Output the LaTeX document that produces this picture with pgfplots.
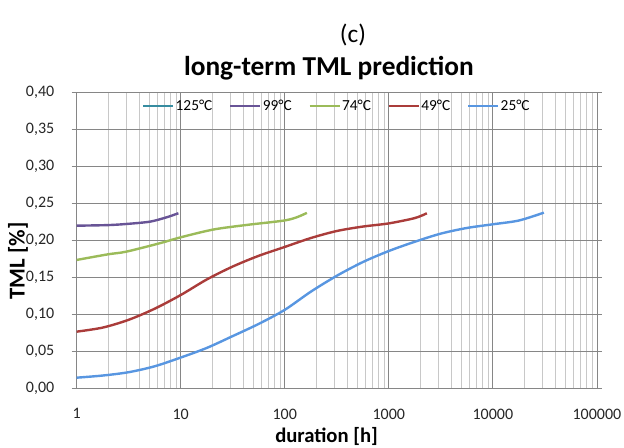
\documentclass[border=0pt]{standalone}
\usepackage{fontspec}
\setmainfont{Carlito}
\usepackage{pgfplots}
\pgfplotsset{compat=1.18}
\definecolor{cA}{RGB}{54,140,160}
\definecolor{cB}{RGB}{104,84,150}
\definecolor{cC}{RGB}{155,187,89}
\definecolor{cD}{RGB}{170,60,58}
\definecolor{cE}{RGB}{88,150,225}
\definecolor{gmaj}{RGB}{134,134,134}
\definecolor{gmin}{RGB}{200,200,200}
\begin{document}
\begin{tikzpicture}
\begin{axis}[
  scale only axis,
  width=390.2pt, height=222pt,
  xmode=log, log basis x=10,
  xmin=1, xmax=100000, ymin=0, ymax=0.4,
  xtick={1,10,100,1000,10000,100000},
  xticklabels={1,10,100,1000,10000,100000},
  minor xtick={2,3,4,5,6,7,8,9,20,30,40,50,60,70,80,90,200,300,400,500,600,700,800,900,2000,3000,4000,5000,6000,7000,8000,9000,20000,30000,40000,50000,60000,70000,80000,90000},
  ytick={0,0.05,0.1,0.15,0.2,0.25,0.3,0.35,0.4},
  yticklabel style={/pgf/number format/use comma, /pgf/number format/fixed, /pgf/number format/fixed zerofill, /pgf/number format/precision=2, xshift=-9.5pt},
  /pgf/number format/assume math mode=true,
  tick label style={font=\fontsize{12}{14}\selectfont, text=black!85},
  xticklabel style={yshift=-8pt},
  grid=major, xminorgrids=true,
  major grid style={gmaj, line width=0.6pt},
  minor grid style={gmin, line width=0.6pt},
  axis line style={gmaj, line width=0.6pt},
  tick align=outside, major tick length=3.75pt,
  tick style={gmaj, line width=0.6pt},
  xtick style={draw=none},
  legend columns=5,
  legend style={at={(axis description cs:0.125,0.954)}, anchor=west, draw=none, fill=none,
    font=\fontsize{11.5}{13}\selectfont, inner sep=0pt, nodes={inner sep=1pt},
    /tikz/every odd column/.append style={column sep=0pt},
    /tikz/every even column/.append style={column sep=11.5pt}},
  legend image code/.code={\draw[#1, line width=1.8pt] (0pt,0pt) -- (22.5pt,0pt);},
  legend cell align=left,
]
\addlegendimage{cA}
\addlegendentry{125°C}
\addplot[cB, line width=1.8pt, smooth] coordinates {
(1,0.2197) (2,0.2205) (3,0.222) (5,0.225) (6.8,0.2297) (8,0.2328) (9.5,0.2365)};
\addlegendentry{99°C}
\addplot[cC, line width=1.8pt, smooth] coordinates {
(1,0.1734) (2,0.181) (3,0.1846) (6.3,0.196) (10,0.204) (20.6,0.2145) (43,0.2207) (97,0.2265) (130,0.231) (163,0.237)};
\addlegendentry{74°C}
\addplot[cD, line width=1.8pt, smooth] coordinates {
(1,0.0765) (1.78,0.082) (3.16,0.0925) (5.62,0.1075) (10,0.126) (17.8,0.147) (31.6,0.1645) (56.2,0.179) (100,0.191) (178,0.203) (316,0.2125) (562,0.2185) (1000,0.2228) (1778,0.2300) (2320,0.2365)};
\addlegendentry{49°C}
\addplot[cE, line width=1.8pt, smooth] coordinates {
(1,0.0143) (1.78,0.0172) (3.16,0.0217) (5.62,0.0297) (10,0.0415) (17.8,0.0545) (31.6,0.0705) (56.2,0.087) (100,0.106) (178,0.1305) (316,0.152) (562,0.1705) (1000,0.1855) (1778,0.198) (3162,0.2090) (5623,0.2166) (10000,0.2216) (17783,0.2267) (30900,0.2373)};
\addlegendentry{25°C}
\end{axis}
\node[font=\fontsize{19}{22}\selectfont] at (207.2pt,265pt) {(c)};
\node[font=\bfseries\fontsize{20.5}{23}\selectfont] at (189.2pt,240.2pt) {long-term TML prediction};
\node[font=\bfseries\fontsize{15.5}{18}\selectfont] at (187.4pt,-36.5pt) {duration [h]};
\node[font=\bfseries\fontsize{17}{19}\selectfont, rotate=90] at (-44pt,95.5pt) {TML [\%]};
\pgfresetboundingbox
\path[use as bounding box] (-57.5pt,-44.8pt) rectangle (410.5pt,291.2pt);
\end{tikzpicture}
\end{document}
